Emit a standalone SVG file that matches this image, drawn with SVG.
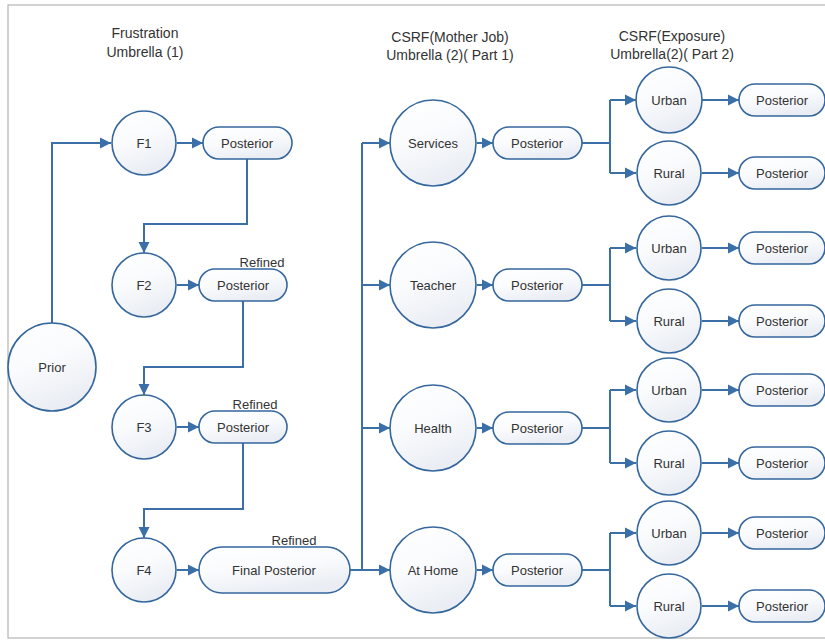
<svg xmlns="http://www.w3.org/2000/svg" width="825" height="641" viewBox="0 0 825 641">
<defs>
<linearGradient id="g" x1="0" y1="0" x2="0.4" y2="1">
<stop offset="0" stop-color="#ffffff"/>
<stop offset="0.5" stop-color="#fafbfd"/>
<stop offset="1" stop-color="#eaeef4"/>
</linearGradient>
<marker id="ah" markerUnits="userSpaceOnUse" markerWidth="12" markerHeight="12" refX="11" refY="6" orient="auto">
<path d="M0,0.5 L11,6 L0,11.5 Z" fill="#3a6fa8"/>
</marker>
<style>
.n{fill:url(#g);stroke:#35679d;stroke-width:1.6}
.t{font-family:"Liberation Sans",Arial,sans-serif;font-size:13px;fill:#333;text-anchor:middle;dominant-baseline:central}
.h{font-family:"Liberation Sans",Arial,sans-serif;font-size:14px;fill:#333;text-anchor:middle}
.r{font-family:"Liberation Sans",Arial,sans-serif;font-size:13px;fill:#333;text-anchor:middle}
.c{fill:none;stroke:#3a6fa8;stroke-width:2}
.a{marker-end:url(#ah)}
</style>
</defs>
<rect x="0" y="0" width="825" height="641" fill="#ffffff"/>
<rect x="8" y="5" width="830" height="633" fill="none" stroke="#b4b4b4" stroke-width="1.2"/>

<g id="titles">
<text class="h" x="145" y="38">Frustration</text>
<text class="h" x="145" y="57">Umbrella (1)</text>
<text class="h" x="450" y="42">CSRF(Mother Job)</text>
<text class="h" x="450" y="60">Umbrella (2)( Part 1)</text>
<text class="h" x="672" y="41">CSRF(Exposure)</text>
<text class="h" x="672" y="59">Umbrella(2)( Part 2)</text>
</g>

<g id="connectors">
<path class="c a" d="M52,324 V143 H111"/>
<path class="c a" d="M177,143 H203"/>
<path class="c a" d="M247,159 V224 H144 V253"/>
<path class="c a" d="M177,285 H199"/>
<path class="c a" d="M243,301 V367 H144 V395"/>
<path class="c a" d="M177,427 H199"/>
<path class="c a" d="M243,443 V509 H144 V538"/>
<path class="c a" d="M177,570 H199"/>
<path class="c a" d="M350,570 H390"/>
<path class="c" d="M362,143 V570"/>
<path class="c a" d="M362,143 H390"/>
<path class="c a" d="M362,285 H390"/>
<path class="c a" d="M362,428 H390"/>

<path class="c a" d="M477,143 H493"/>
<path class="c a" d="M477,285 H493"/>
<path class="c a" d="M477,428 H493"/>
<path class="c a" d="M477,570 H493"/>

<path class="c" d="M582,143 H610 M610,100 V173"/>
<path class="c a" d="M610,100 H636"/>
<path class="c a" d="M610,173 H636"/>
<path class="c" d="M582,285 H610 M610,248 V321"/>
<path class="c a" d="M610,248 H636"/>
<path class="c a" d="M610,321 H636"/>
<path class="c" d="M582,428 H610 M610,390 V463"/>
<path class="c a" d="M610,390 H636"/>
<path class="c a" d="M610,463 H636"/>
<path class="c" d="M582,570 H610 M610,533 V606"/>
<path class="c a" d="M610,533 H636"/>
<path class="c a" d="M610,606 H636"/>

<path class="c a" d="M702,100 H739"/>
<path class="c a" d="M702,173 H739"/>
<path class="c a" d="M702,248 H739"/>
<path class="c a" d="M702,321 H739"/>
<path class="c a" d="M702,390 H739"/>
<path class="c a" d="M702,463 H739"/>
<path class="c a" d="M702,533 H739"/>
<path class="c a" d="M702,606 H739"/>
</g>

<g id="prior"><circle class="n" cx="52" cy="367" r="44"/><text class="t" x="52" y="367">Prior</text></g>

<g id="f1"><circle class="n" cx="144" cy="143" r="32"/><text class="t" x="144" y="143">F1</text></g>
<g id="f1post"><rect class="n" x="203" y="127" width="89" height="32" rx="16"/><text class="t" x="247" y="143">Posterior</text></g>

<g id="f2"><circle class="n" cx="144" cy="285" r="32"/><text class="t" x="144" y="285">F2</text></g>
<g id="f2post"><rect class="n" x="199" y="269" width="88" height="32" rx="16"/><text class="t" x="243" y="285">Posterior</text><text class="r" x="262" y="267">Refined</text></g>

<g id="f3"><circle class="n" cx="144" cy="427" r="32"/><text class="t" x="144" y="427">F3</text></g>
<g id="f3post"><rect class="n" x="199" y="411" width="88" height="32" rx="16"/><text class="t" x="243" y="427">Posterior</text><text class="r" x="255" y="409">Refined</text></g>

<g id="f4"><circle class="n" cx="144" cy="570" r="32"/><text class="t" x="144" y="570">F4</text></g>
<g id="final"><rect class="n" x="199" y="547" width="151" height="46" rx="23"/><text class="t" x="274" y="570">Final Posterior</text><text class="r" x="294" y="545">Refined</text></g>

<g id="services"><circle class="n" cx="433" cy="143" r="43"/><text class="t" x="433" y="143">Services</text></g>
<g id="servicespost"><rect class="n" x="493" y="127" width="89" height="32" rx="16"/><text class="t" x="537" y="143">Posterior</text></g>
<g id="teacher"><circle class="n" cx="433" cy="285" r="43"/><text class="t" x="433" y="285">Teacher</text></g>
<g id="teacherpost"><rect class="n" x="493" y="269" width="89" height="32" rx="16"/><text class="t" x="537" y="285">Posterior</text></g>
<g id="health"><circle class="n" cx="433" cy="428" r="43"/><text class="t" x="433" y="428">Health</text></g>
<g id="healthpost"><rect class="n" x="493" y="412" width="89" height="32" rx="16"/><text class="t" x="537" y="428">Posterior</text></g>
<g id="athome"><circle class="n" cx="433" cy="570" r="43"/><text class="t" x="433" y="570">At Home</text></g>
<g id="athomepost"><rect class="n" x="493" y="554" width="89" height="32" rx="16"/><text class="t" x="537" y="570">Posterior</text></g>

<g id="urban1"><circle class="n" cx="669" cy="100" r="33"/><text class="t" x="669" y="100">Urban</text></g>
<g id="urban1post"><rect class="n" x="739" y="84" width="86" height="32" rx="16"/><text class="t" x="782" y="100">Posterior</text></g>
<g id="rural1"><circle class="n" cx="669" cy="173" r="32"/><text class="t" x="669" y="173">Rural</text></g>
<g id="rural1post"><rect class="n" x="739" y="157" width="86" height="32" rx="16"/><text class="t" x="782" y="173">Posterior</text></g>

<g id="urban2"><circle class="n" cx="669" cy="248" r="32"/><text class="t" x="669" y="248">Urban</text></g>
<g id="urban2post"><rect class="n" x="739" y="232" width="86" height="32" rx="16"/><text class="t" x="782" y="248">Posterior</text></g>
<g id="rural2"><circle class="n" cx="669" cy="321" r="32"/><text class="t" x="669" y="321">Rural</text></g>
<g id="rural2post"><rect class="n" x="739" y="305" width="86" height="32" rx="16"/><text class="t" x="782" y="321">Posterior</text></g>

<g id="urban3"><circle class="n" cx="669" cy="390" r="32"/><text class="t" x="669" y="390">Urban</text></g>
<g id="urban3post"><rect class="n" x="739" y="374" width="86" height="32" rx="16"/><text class="t" x="782" y="390">Posterior</text></g>
<g id="rural3"><circle class="n" cx="669" cy="463" r="32"/><text class="t" x="669" y="463">Rural</text></g>
<g id="rural3post"><rect class="n" x="739" y="447" width="86" height="32" rx="16"/><text class="t" x="782" y="463">Posterior</text></g>

<g id="urban4"><circle class="n" cx="669" cy="533" r="32"/><text class="t" x="669" y="533">Urban</text></g>
<g id="urban4post"><rect class="n" x="739" y="517" width="86" height="32" rx="16"/><text class="t" x="782" y="533">Posterior</text></g>
<g id="rural4"><circle class="n" cx="669" cy="606" r="32"/><text class="t" x="669" y="606">Rural</text></g>
<g id="rural4post"><rect class="n" x="739" y="590" width="86" height="32" rx="16"/><text class="t" x="782" y="606">Posterior</text></g>
</svg>
